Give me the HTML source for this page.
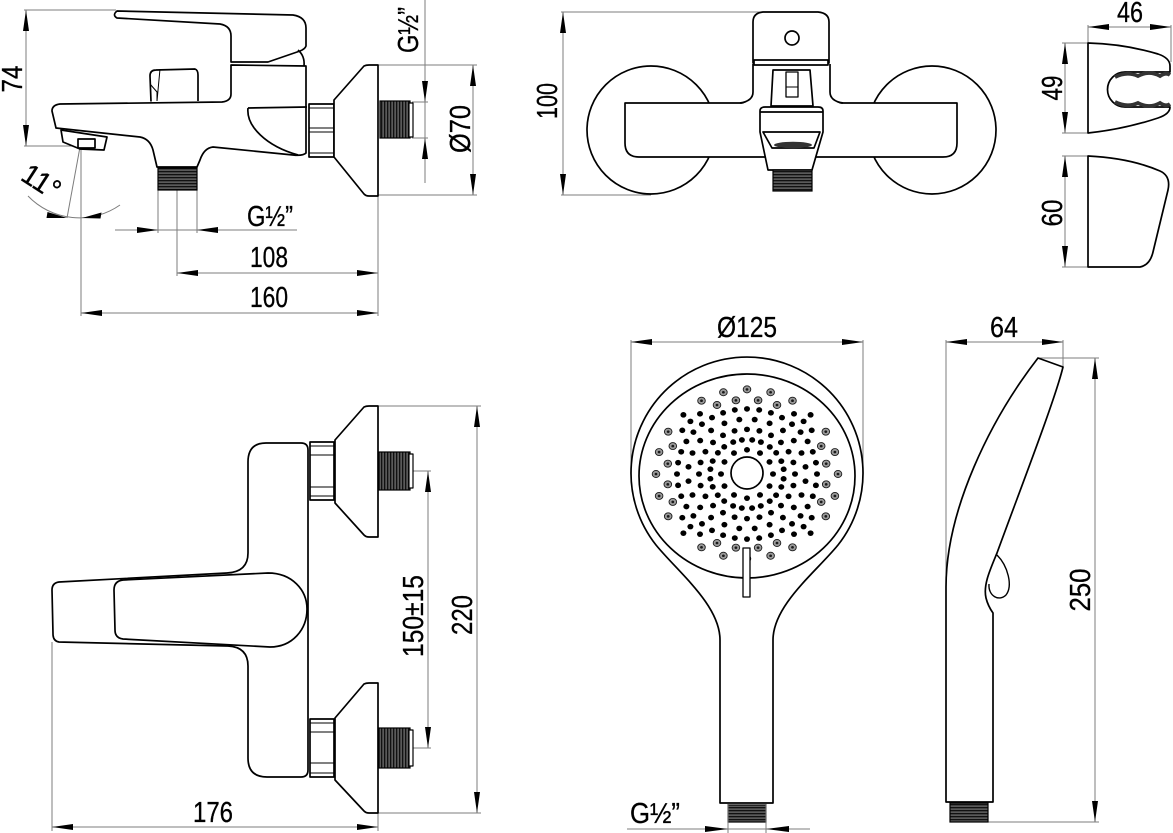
<!DOCTYPE html>
<html><head><meta charset="utf-8"><style>
html,body{margin:0;padding:0;background:#fff}
svg{display:block}
.o{fill:#fff;stroke:#000;stroke-width:1.7;stroke-linejoin:round}
.n{fill:none;stroke:#000;stroke-width:1.7;stroke-linejoin:round}
.t{fill:none;stroke:#000;stroke-width:1}
.d{fill:none;stroke:#7d7d7d;stroke-width:1}
.dm{fill:none;stroke:#7d7d7d;stroke-width:1;marker-start:url(#ar);marker-end:url(#ar)}
text{font-family:"Liberation Sans",sans-serif;font-size:29px;fill:#000;stroke:#000;stroke-width:0.3}
</style></head><body>
<svg width="1173" height="833" viewBox="0 0 1173 833" xmlns="http://www.w3.org/2000/svg" xmlns:xlink="http://www.w3.org/1999/xlink">
<defs>
<marker id="ar" viewBox="0 0 21 7" refX="21" refY="3.5" markerWidth="21" markerHeight="7" markerUnits="userSpaceOnUse" orient="auto-start-reverse"><path d="M0,0.5 L21,3.5 L0,6.5Z" fill="#000"/></marker>
<pattern id="th" width="4" height="3" patternUnits="userSpaceOnUse"><rect width="4" height="3" fill="#5a5a5a"/><rect width="4" height="1.3" fill="#111"/></pattern>
<pattern id="tv" width="3" height="4" patternUnits="userSpaceOnUse"><rect width="3" height="4" fill="#5a5a5a"/><rect width="1.3" height="4" fill="#111"/></pattern>
<g id="hz"><circle r="3.8" fill="#9a9a9a" stroke="#1a1a1a" stroke-width="0.9"/><circle r="1.4" fill="#1a1a1a"/></g>
<g id="sec" fill="#000">
<circle cx="26" cy="0" r="3"/>
<circle cx="36.6" cy="5.2" r="3"/><circle cx="34.3" cy="13.9" r="3"/>
<circle cx="48" cy="0" r="3"/><circle cx="46.4" cy="12.4" r="3"/>
<circle cx="58.5" cy="7.7" r="3"/><circle cx="54.5" cy="22.6" r="3"/>
<circle cx="70" cy="0" r="3"/><circle cx="68.9" cy="12.2" r="3"/><circle cx="65.8" cy="23.9" r="3"/>
</g>
<g id="quad">
<use xlink:href="#hz" x="91" y="0"/>
<use xlink:href="#hz" x="87.9" y="23.6"/><use xlink:href="#hz" x="87.9" y="-23.6"/>
<use xlink:href="#hz" x="78.8" y="45.5"/><use xlink:href="#hz" x="78.8" y="-45.5"/>
<use xlink:href="#hz" x="79.2" y="11.1"/><use xlink:href="#hz" x="79.2" y="-11.1"/>
<use xlink:href="#hz" x="74.2" y="30"/><use xlink:href="#hz" x="74.2" y="-30"/>
<g fill="#000"><circle cx="64.7" cy="47" r="3"/><circle cx="56.6" cy="56.6" r="3"/><circle cx="47" cy="64.7" r="3"/><circle cx="63.6" cy="63.6" r="3"/></g>
</g>
</defs>

<!-- ============ TOP-LEFT: side view of bath mixer ============ -->
<g>
<line class="d" x1="24" y1="10" x2="116" y2="10"/>
<line class="d" x1="24" y1="146" x2="76" y2="146"/>
<line class="dm" x1="26" y1="10" x2="26" y2="146"/>
<line class="d" x1="425" y1="0" x2="425" y2="183"/>
<polygon points="422,81 425,102 428,81"/>
<polygon points="422,159 425,138 428,159"/>
<line class="d" x1="412" y1="102" x2="428" y2="102"/>
<line class="d" x1="412" y1="138" x2="428" y2="138"/>
<line class="d" x1="378" y1="65" x2="477" y2="65"/>
<line class="d" x1="378" y1="195" x2="477" y2="195"/>
<line class="dm" x1="473" y1="65" x2="473" y2="195"/>
<line class="d" x1="115" y1="230" x2="297" y2="230"/>
<polygon points="137,227 158,230 137,233"/>
<polygon points="218,227 197,230 218,233"/>
<line class="d" x1="158" y1="190" x2="158" y2="233"/>
<line class="d" x1="197" y1="190" x2="197" y2="233"/>
<line class="d" x1="177" y1="168" x2="177" y2="276"/>
<line class="dm" x1="177" y1="273" x2="378" y2="273"/>
<line class="d" x1="81" y1="148" x2="81" y2="316"/>
<line class="d" x1="378" y1="196" x2="378" y2="316"/>
<line class="dm" x1="81" y1="313" x2="378" y2="313"/>
<line class="d" x1="80" y1="147" x2="67" y2="218"/>
<path class="d" d="M28,196 A71 71 0 0 0 120,205"/>
<polygon points="47.5,212 67,218 46.5,218"/>
<polygon points="101.5,212.5 82,218 100.5,218.5"/>

<!-- body -->
<path class="o" d="M60,104 L222,102 Q231,101 231,94 L231,65 L306,66 L306,153 Q303,156 293,155 L213,147 Q204,148 200,160 L197,167 L157,167 L153,150 Q150,139 140,137 L56,128 L52,111 Q52,105 60,104 Z"/>
<!-- lever -->
<path class="o" d="M117,11 L293,15 Q306,17 306,28 L306,46 Q305,49 300,51 L268,62 L231,62 L231,36 Q231,26 220,24 L117,18 Q112,15 117,11 Z"/>
<path class="n" d="M298,50 Q305,56 304,66"/>
<!-- knob -->
<path class="o" d="M151,101.5 L150,76 Q150,70 156,70 L195,69 Q198,70 198,75 L198,101"/>
<path class="t" d="M150,84 L157,92 L157,101 M160,69 L157,101"/>
<!-- fin -->
<path class="n" d="M248,108 L307,107 M248,108 C246,126 266,146 298,155"/>
<!-- aerator -->
<polygon class="o" points="61,130 107,137 104,150 80,149 63,142"/>
<rect class="o" x="78" y="139" width="17" height="9"/>
<!-- nut -->
<rect class="o" x="309" y="104" width="25" height="53"/>
<path class="t" d="M309,108 H334 M309,128 H334 M309,132 H334 M309,153 H334"/>
<!-- escutcheon -->
<path class="o" d="M334,100 L364,66 Q366,65 369,65 L378,65 L378,196 L369,196 Q366,196 364,194 L334,157 Z"/>
<rect x="380" y="101" width="30" height="37" fill="url(#tv)" stroke="#000" stroke-width="1.2"/>
<rect class="o" x="409" y="103" width="4" height="34" style="stroke-width:1.2"/>
<rect x="158" y="168" width="39" height="22" fill="url(#th)" stroke="#000" stroke-width="1.2"/>

<text transform="translate(22,79) rotate(-90)" text-anchor="middle" textLength="27" lengthAdjust="spacingAndGlyphs">74</text>
<text transform="translate(418,30) rotate(-90)" text-anchor="middle" textLength="46" lengthAdjust="spacingAndGlyphs">G½”</text>
<text transform="translate(470,129) rotate(-90)" text-anchor="middle" textLength="48" lengthAdjust="spacingAndGlyphs">Ø70</text>
<text x="270" y="226" text-anchor="middle" textLength="46" lengthAdjust="spacingAndGlyphs">G½”</text>
<text x="269" y="267" text-anchor="middle" textLength="38" lengthAdjust="spacingAndGlyphs">108</text>
<text x="269" y="307" text-anchor="middle" textLength="38" lengthAdjust="spacingAndGlyphs">160</text>
<text transform="translate(36,190) rotate(33)" text-anchor="middle" textLength="40" lengthAdjust="spacingAndGlyphs">11°</text>
</g>

<!-- ============ TOP-MIDDLE: front view ============ -->
<g>
<line class="d" x1="561" y1="12" x2="760" y2="12"/>
<line class="d" x1="561" y1="195" x2="651" y2="195"/>
<line class="dm" x1="563" y1="12" x2="563" y2="195"/>
<text transform="translate(557,101) rotate(-90)" text-anchor="middle" textLength="36" lengthAdjust="spacingAndGlyphs">100</text>

<circle class="o" cx="651" cy="130" r="64"/>
<circle class="o" cx="932" cy="130" r="64"/>
<path class="o" d="M625,103 L957,103 L957,143 Q957,157 943,157 L639,157 Q625,157 625,143 Z"/>
<path d="M740,104.6 Q753,101 753,92 L753,64 L830,64 L830,92 Q830,101 843,104.6 Z" fill="#fff"/>
<path class="n" d="M740,103 Q753,101 753,92 L753,64 M843,103 Q830,101 830,92 L830,64"/>
<!-- cap -->
<path class="o" d="M753,63 L753,22 Q753,13 763,12 L818,12 Q829,13 829,22 L829,63 Z"/>
<rect class="o" x="754" y="60" width="74" height="5"/>
<circle class="o" cx="792" cy="38" r="7"/>
<!-- upper trapezoid -->
<path class="o" d="M773,70 L810,70 L813,106 L771,106 Z"/>
<rect class="o" x="786" y="72" width="12" height="25" style="stroke-width:1.3"/>
<line class="t" x1="786" y1="87" x2="798" y2="87"/>
<!-- lower block -->
<path class="o" d="M760,132 L760,111 Q760,107 765,107 L818,107 Q823,107 823,111 L823,132 L812,170 L768,170 Z"/>
<line class="n" x1="760" y1="112" x2="823" y2="112"/>
<path class="o" d="M763,132 L820,132 L814,148 L772,148 Z"/>
<ellipse cx="793" cy="145" rx="19" ry="3.2" fill="#333"/>
<rect x="773" y="170" width="39" height="21" fill="url(#th)" stroke="#000" stroke-width="1.2"/>
</g>

<!-- ============ TOP-RIGHT: holder ============ -->
<g>
<line class="d" x1="1088" y1="25" x2="1088" y2="43"/>
<line class="d" x1="1171" y1="25" x2="1171" y2="62"/>
<line class="dm" x1="1088" y1="27" x2="1171" y2="27"/>
<text x="1130" y="22" text-anchor="middle" textLength="26" lengthAdjust="spacingAndGlyphs">46</text>
<line class="d" x1="1062" y1="43" x2="1088" y2="43"/>
<line class="d" x1="1062" y1="133" x2="1088" y2="133"/>
<line class="dm" x1="1065" y1="43" x2="1065" y2="133"/>
<text transform="translate(1062,88) rotate(-90)" text-anchor="middle" textLength="25" lengthAdjust="spacingAndGlyphs">49</text>
<path class="o" d="M1088,43 L1088,133 Q1125,129 1158,118 Q1170,114 1170,107 L1125,107 A17.5 17.5 0 0 1 1125,72 L1170,72 L1170,66 Q1170,58 1158,54 Q1125,44 1088,43 Z"/>
<path fill="none" stroke="#333" stroke-width="3.8" d="M1115,77 Q1127,71 1138,76 Q1149,70 1160,76 Q1166,72 1170,75"/>
<path fill="none" stroke="#333" stroke-width="3.8" d="M1115,102 Q1127,108 1138,103 Q1149,109 1160,103 Q1166,107 1170,104"/>
<line class="d" x1="1062" y1="156" x2="1088" y2="156"/>
<line class="d" x1="1062" y1="267" x2="1088" y2="267"/>
<line class="dm" x1="1065" y1="156" x2="1065" y2="267"/>
<text transform="translate(1062,213) rotate(-90)" text-anchor="middle" textLength="27" lengthAdjust="spacingAndGlyphs">60</text>
<path class="o" d="M1088,156 L1088,267 L1140,267 Q1150,265 1153,252 L1168,190 Q1171,176 1160,171 Q1130,158 1088,156 Z"/>
</g>

<!-- ============ BOTTOM-LEFT: top view ============ -->
<g>
<line class="d" x1="378" y1="406" x2="481" y2="406"/>
<line class="d" x1="378" y1="813" x2="481" y2="813"/>
<line class="dm" x1="477" y1="406" x2="477" y2="813"/>
<text transform="translate(472,615) rotate(-90)" text-anchor="middle" textLength="40" lengthAdjust="spacingAndGlyphs">220</text>
<line class="d" x1="413" y1="471" x2="431" y2="471"/>
<line class="d" x1="413" y1="748" x2="431" y2="748"/>
<line class="dm" x1="428" y1="471" x2="428" y2="748"/>
<text transform="translate(423,616) rotate(-90)" text-anchor="middle" textLength="82" lengthAdjust="spacingAndGlyphs">150±15</text>
<line class="d" x1="52" y1="642" x2="52" y2="831"/>
<line class="d" x1="378" y1="813" x2="378" y2="831"/>
<line class="dm" x1="52" y1="827" x2="378" y2="827"/>
<text x="213" y="822" text-anchor="middle" textLength="40" lengthAdjust="spacingAndGlyphs">176</text>

<path class="o" d="M266,443 L301,443 Q308,443 308,450 L308,770 Q308,777 301,777 L267,777 Q248,777 248,758 L248,666 Q248,647 228,646 L59,642 Q53,641 53,634 L52,590 Q52,583 59,582 L227,573 Q248,572 248,553 L248,462 Q248,443 266,443 Z"/>
<path class="o" d="M123,580 L268,573 C292,573 307,590 307,609 C307,630 292,647 270,647 L123,639 Q115,638 115,630 L114,590 Q114,581 123,580 Z"/>

<rect class="o" x="310" y="442" width="24" height="58"/>
<path class="t" d="M310,446 H334 M310,455 H334 M310,487 H334 M310,496 H334"/>
<path class="o" d="M335,440 L364,407 Q366,406 369,406 L378,406 L378,537 L369,537 Q366,537 364,535 L335,503 Z"/>
<rect x="379" y="452" width="31" height="38" fill="url(#tv)" stroke="#000" stroke-width="1.2"/>
<rect class="o" x="409" y="454" width="4" height="34" style="stroke-width:1.2"/>

<rect class="o" x="310" y="719" width="24" height="58"/>
<path class="t" d="M310,723 H334 M310,732 H334 M310,763 H334 M310,773 H334"/>
<path class="o" d="M335,718 L364,684 Q366,683 369,683 L378,683 L378,813 L369,813 Q366,813 364,811 L335,780 Z"/>
<rect x="379" y="728" width="31" height="40" fill="url(#tv)" stroke="#000" stroke-width="1.2"/>
<rect class="o" x="409" y="730" width="4" height="36" style="stroke-width:1.2"/>
</g>

<!-- ============ BOTTOM-MIDDLE: shower head front ============ -->
<g>
<line class="d" x1="631" y1="340" x2="631" y2="474"/>
<line class="d" x1="863" y1="340" x2="863" y2="474"/>
<line class="dm" x1="631" y1="342" x2="863" y2="342"/>
<text x="747" y="337" text-anchor="middle" textLength="60" lengthAdjust="spacingAndGlyphs">Ø125</text>

<path class="o" d="M720,803 L720,640 C720,605 678,572 656,545 A116 116 0 1 1 838,545 C816,572 773,605 773,640 L773,803 Z"/>
<ellipse class="o" cx="747" cy="476" rx="108" ry="102"/>
<g transform="translate(747,474) scale(1,0.93)">
<use xlink:href="#sec"/>
<use xlink:href="#sec" transform="rotate(30)"/>
<use xlink:href="#sec" transform="rotate(60)"/>
<use xlink:href="#sec" transform="rotate(90)"/>
<use xlink:href="#sec" transform="rotate(120)"/>
<use xlink:href="#sec" transform="rotate(150)"/>
<use xlink:href="#sec" transform="rotate(180)"/>
<use xlink:href="#sec" transform="rotate(210)"/>
<use xlink:href="#sec" transform="rotate(240)"/>
<use xlink:href="#sec" transform="rotate(270)"/>
<use xlink:href="#sec" transform="rotate(300)"/>
<use xlink:href="#sec" transform="rotate(330)"/>
<use xlink:href="#quad"/>
<use xlink:href="#quad" transform="rotate(90)"/>
<use xlink:href="#quad" transform="rotate(180)"/>
<use xlink:href="#quad" transform="rotate(270)"/>
</g>
<circle class="o" cx="747" cy="473" r="16"/>
<rect class="o" x="743" y="548" width="7" height="49" style="stroke-width:1.3"/>

<rect x="728" y="805" width="38" height="17" fill="url(#th)" stroke="#000" stroke-width="1.2"/>
<line class="d" x1="728" y1="805" x2="728" y2="833"/>
<line class="d" x1="766" y1="805" x2="766" y2="833"/>
<line class="d" x1="627" y1="829" x2="810" y2="829"/>
<polygon points="705,826 728,829 705,832"/>
<polygon points="789,826 766,829 789,832"/>
<text x="655" y="823" text-anchor="middle" textLength="50" lengthAdjust="spacingAndGlyphs">G½”</text>
</g>

<!-- ============ BOTTOM-RIGHT: shower head side ============ -->
<g>
<line class="d" x1="946" y1="340" x2="946" y2="590"/>
<line class="d" x1="1063" y1="340" x2="1063" y2="367"/>
<line class="dm" x1="946" y1="342" x2="1063" y2="342"/>
<text x="1004" y="337" text-anchor="middle" textLength="28" lengthAdjust="spacingAndGlyphs">64</text>
<line class="d" x1="1038" y1="358" x2="1099" y2="358"/>
<line class="d" x1="988" y1="822" x2="1099" y2="822"/>
<line class="dm" x1="1095" y1="358" x2="1095" y2="822"/>
<text transform="translate(1090,590) rotate(-90)" text-anchor="middle" textLength="43" lengthAdjust="spacingAndGlyphs">250</text>

<path class="o" d="M946,802 L946,587 C946,510 990,420 1038,358 L1063,367 C1055,400 1020,490 997,553 C990,570 983,585 986,598 Q988,606 993,613 L993,802 Z"/>
<path class="n" style="stroke-width:1.4" d="M997,555 C1008,566 1013,586 1006,595 C999,602 988,596 989,584"/>
<rect x="950" y="803" width="38" height="19" fill="url(#th)" stroke="#000" stroke-width="1.2"/>
</g>
</svg>
</body></html>
